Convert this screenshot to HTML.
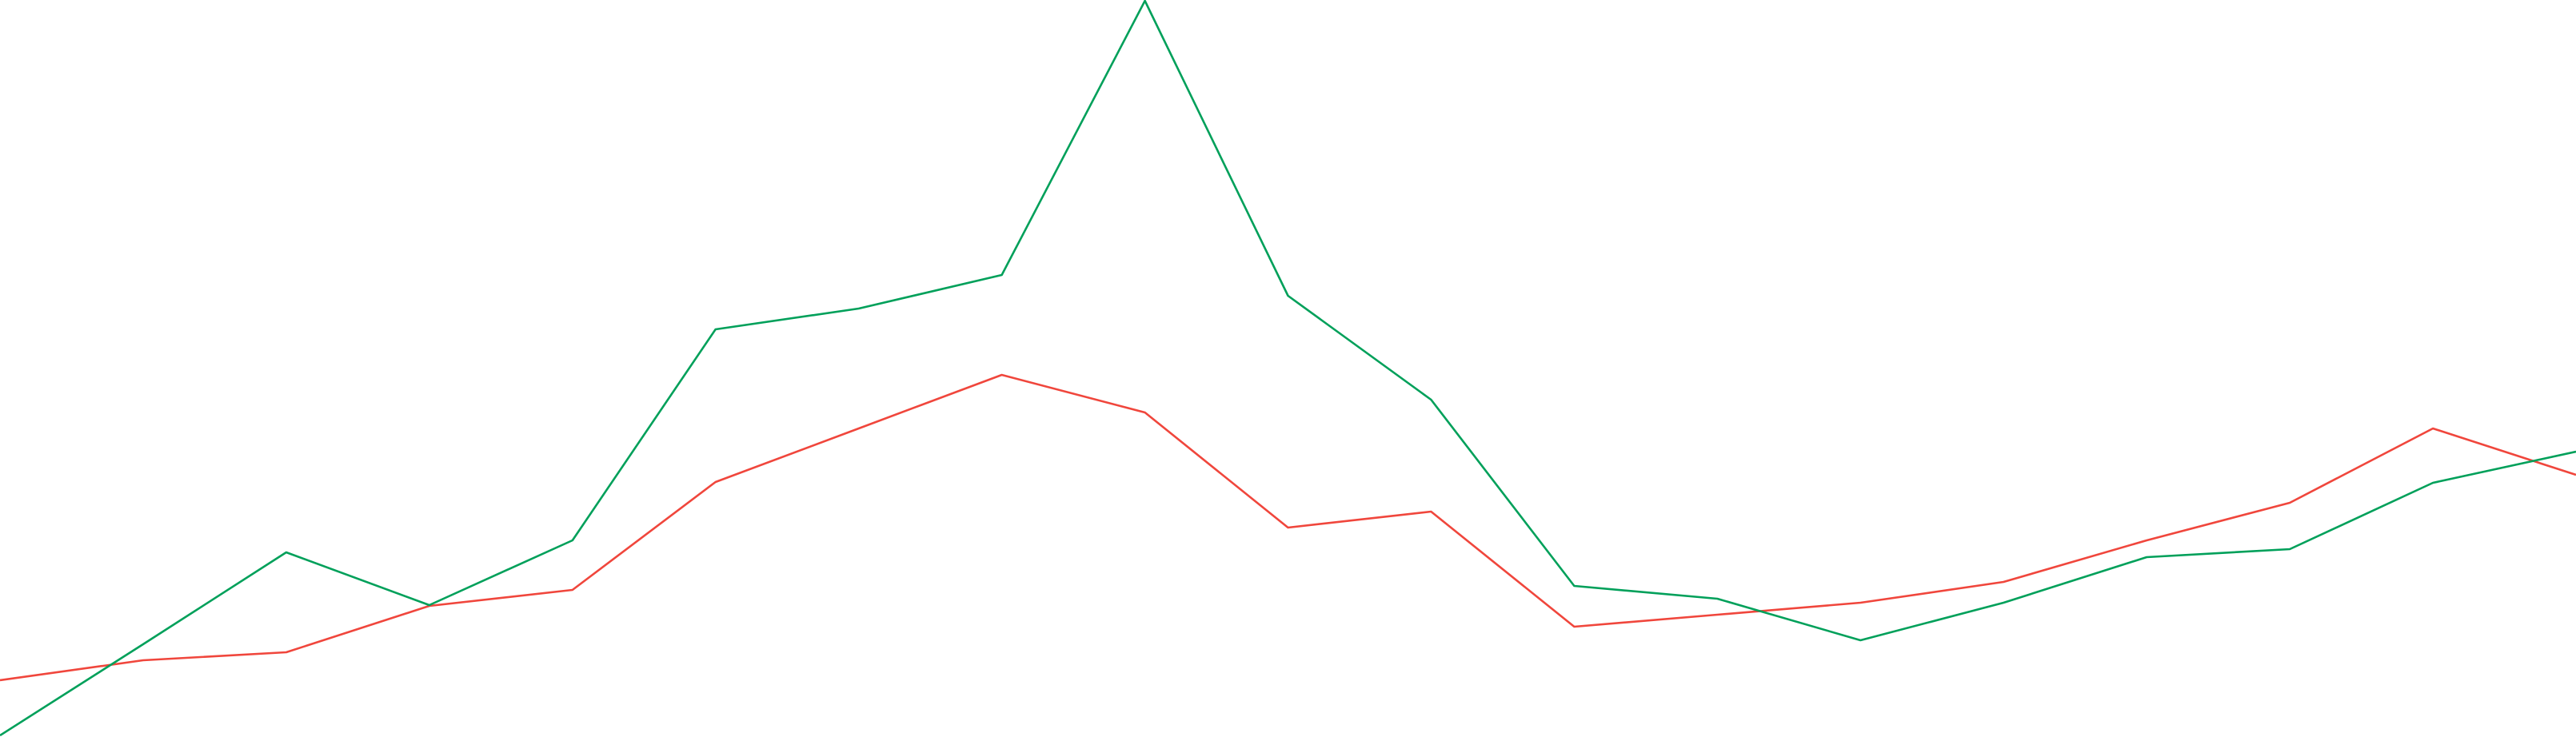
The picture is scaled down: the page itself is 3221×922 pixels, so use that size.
<!DOCTYPE html>
<html><head><meta charset="utf-8"><style>html,body{margin:0;padding:0;background:#fff;overflow:hidden}svg{display:block}</style></head>
<body>
<svg id="chart" width="3221" height="922" viewBox="0 0 3221 922" xmlns="http://www.w3.org/2000/svg"></svg>
<script>
const categories = [0,1,2,3,4,5,6,7,8,9,10,11,12,13,14,15,16,17,18];
const greenValues = [2,116,231,165,246,510,536,578,921,552,422,189,173,121,168,225,235,318,357];
const redValues = [71,96,106,164,184,319,386,453,406,262,282,138,153,168,194,246,293,386,328];
const W = 3221, H = 922, yMax = 922;
function xScale(i){ return i * W / (categories.length - 1); }
function yScale(v){ return H - v * H / yMax; }
const svg = document.getElementById('chart');
const NS = 'http://www.w3.org/2000/svg';
function draw(vals, color, name){
  const p = document.createElementNS(NS, 'polyline');
  p.setAttribute('points', vals.map((v,i)=>xScale(i).toFixed(1)+','+yScale(v).toFixed(1)).join(' '));
  p.setAttribute('fill', 'none');
  p.setAttribute('stroke', color);
  p.setAttribute('stroke-width', '2.6');
  p.setAttribute('stroke-linejoin', 'round');
  
  
  svg.appendChild(p);
}
draw(redValues, '#f0463c', 'red-series-line');
draw(greenValues, '#00a05a', 'green-series-line');
</script>
</body></html>
